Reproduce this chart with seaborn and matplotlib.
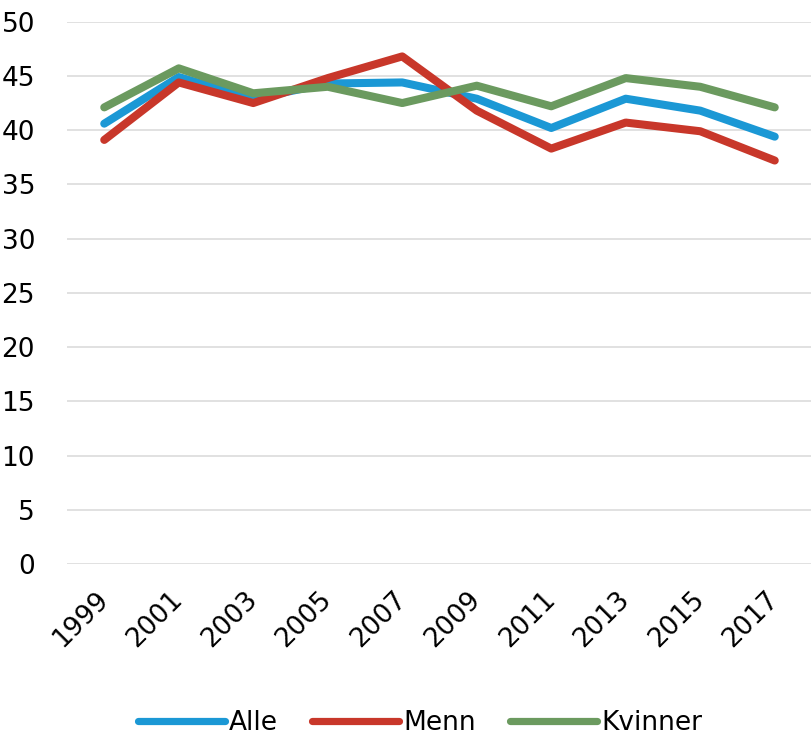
import matplotlib
matplotlib.use("Agg")
import matplotlib.pyplot as plt
import matplotlib.transforms as mtransforms
import seaborn as sns
import pandas as pd

# values
years = [1999, 2001, 2003, 2005, 2007, 2009, 2011, 2013, 2015, 2017]
alle = [40.6, 44.9, 42.9, 44.3, 44.4, 42.9, 40.2, 42.9, 41.8, 39.4]
menn = [39.1, 44.4, 42.5, 44.8, 46.8, 41.8, 38.3, 40.7, 39.9, 37.2]
kvinner = [42.1, 45.7, 43.4, 44.0, 42.5, 44.1, 42.2, 44.8, 44.0, 42.1]
series_names = ["Alle", "Menn", "Kvinner"]
colors = ["#1b98d5", "#c8372a", "#6b9a5f"]

df = pd.DataFrame({"year": years * 3,
                   "value": alle + menn + kvinner,
                   "serie": [n for n in series_names for _ in years]})

sns.set_theme(style="white")
plt.rcParams['font.family'] = ['DejaVu Sans']
plt.rcParams['text.color'] = 'black'

fig = plt.figure(figsize=(8.12, 7.39), dpi=100)
ax = fig.add_axes([67 / 812, 1 - 564 / 739, 1 - 67 / 812, (564 - 21.7) / 739])

sns.lineplot(data=df, x="year", y="value", hue="serie", hue_order=series_names,
             palette=colors, linewidth=5.8, ax=ax, sort=False,
             solid_capstyle="round", legend=True)

ax.set_xlim(1998, 2018)
ax.set_ylim(0, 50)
ax.set_yticks(range(0, 51, 5))
ax.set_xticks(years)
ax.set_xticklabels([str(y) for y in years], rotation=45, ha="right",
                   va="center", rotation_mode="anchor", fontsize=19)
for lab in ax.get_xticklabels():
    lab.set_transform(lab.get_transform() +
                      mtransforms.ScaledTranslation(4 / 100, 0, fig.dpi_scale_trans))
ax.tick_params(axis="y", labelsize=19, length=0, pad=23, labelcolor="black")
ax.tick_params(axis="x", length=0, pad=23, labelcolor="black")
ax.yaxis.grid(True, color="#d9d9d9", linewidth=1.1)
ax.set_axisbelow(True)
for s in ax.spines.values():
    s.set_visible(False)
ax.set_xlabel("")
ax.set_ylabel("")

handles, labels = ax.get_legend_handles_labels()
ax.get_legend().remove()
for h in handles:
    h.set_linewidth(5.2)
    h.set_solid_capstyle("round")
fig.legend(handles, labels, loc="center", bbox_to_anchor=(0.517, 1 - 723 / 739),
           ncol=3, frameon=False, fontsize=19, handlelength=3.3,
           handletextpad=0.15, columnspacing=1.3, labelcolor="black")

fig.savefig("out.png", dpi=100)
